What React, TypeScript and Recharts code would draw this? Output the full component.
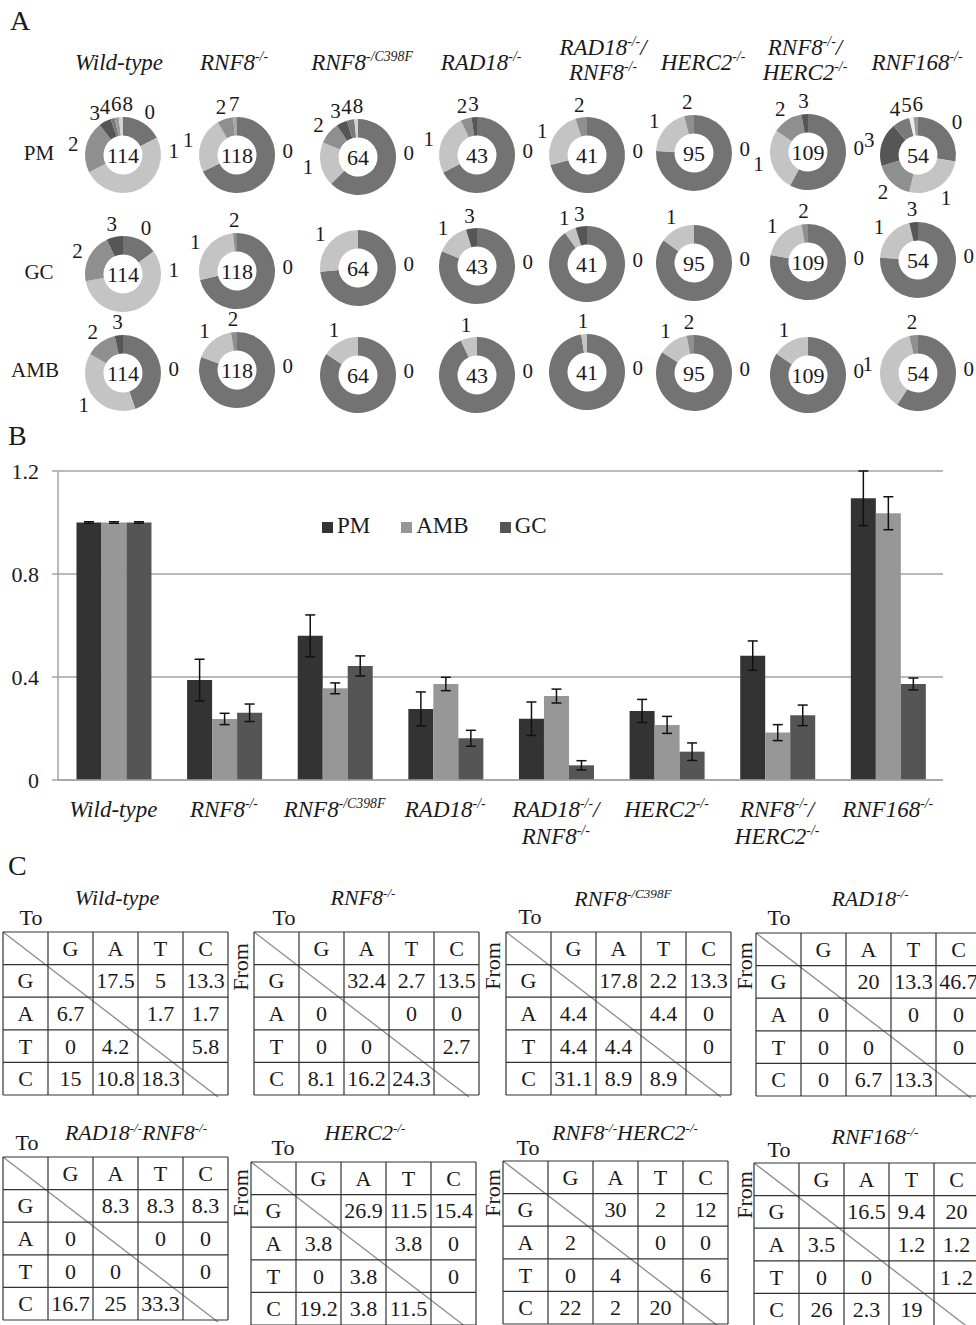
import React from 'react';
import {
  PieChart, Pie, Cell, Label, BarChart, Bar, XAxis, YAxis, CartesianGrid, ErrorBar, Legend,
} from 'recharts';

const SERIF = '"Liberation Serif", "Times New Roman", Times, serif';
const INK = '#1a1a1a';

// Genotype names; ^{...} marks a superscript and | a line break.
const genotypes = [
  'Wild-type', 'RNF8^{-/-}', 'RNF8^{-/C398F}', 'RAD18^{-/-}',
  'RAD18^{-/-}/|RNF8^{-/-}', 'HERC2^{-/-}', 'RNF8^{-/-}/|HERC2^{-/-}', 'RNF168^{-/-}',
];
const tableTitles = [
  'Wild-type', 'RNF8^{-/-}', 'RNF8^{-/C398F}', 'RAD18^{-/-}',
  'RAD18^{-/-}RNF8^{-/-}', 'HERC2^{-/-}', 'RNF8^{-/-}HERC2^{-/-}', 'RNF168^{-/-}',
];

// Panel A: cells scored per genotype and the number of cells per event class.
const tracks = ['PM', 'GC', 'AMB'];
const cellsScored = [114, 118, 64, 43, 41, 95, 109, 54];

const pmCounts: Record<string, number>[] = [
  { 0: 20, 1: 57, 2: 25, 3: 6, 4: 2, 6: 2, 8: 2 },
  { 0: 80, 1: 28, 2: 8, 7: 2 },
  { 0: 40, 1: 12, 2: 6, 3: 3, 4: 2, 8: 1 },
  { 0: 29, 1: 11, 2: 2, 3: 1 },
  { 0: 29, 1: 10, 2: 2 },
  { 0: 72, 1: 19, 2: 4 },
  { 0: 63, 1: 29, 2: 14, 3: 3 },
  { 0: 15, 1: 14, 2: 9, 3: 10, 4: 4, 5: 1, 6: 1 },
];
const gcCounts: Record<string, number>[] = [
  { 0: 17, 1: 65, 2: 24, 3: 8 },
  { 0: 84, 1: 32, 2: 2 },
  { 0: 47, 1: 17 },
  { 0: 35, 1: 6, 3: 2 },
  { 0: 37, 1: 2, 3: 2 },
  { 0: 81, 1: 14 },
  { 0: 85, 1: 21, 2: 3 },
  { 0: 41, 1: 11, 3: 2 },
];
const ambCounts: Record<string, number>[] = [
  { 0: 51, 1: 44, 2: 15, 3: 4 },
  { 0: 95, 1: 20, 2: 3 },
  { 0: 54, 1: 10 },
  { 0: 40, 1: 3 },
  { 0: 40, 1: 1 },
  { 0: 80, 1: 12, 2: 3 },
  { 0: 92, 1: 17 },
  { 0: 32, 1: 20, 2: 2 },
];
const trackCounts = [pmCounts, gcCounts, ambCounts];

// Panel B: frequencies relative to wild-type, with error bars.
const seriesOrder = ['PM', 'AMB', 'GC'];
const pmRatio = [1, 0.388, 0.56, 0.276, 0.238, 0.268, 0.483, 1.094];
const pmErr = [0.003, 0.081, 0.081, 0.066, 0.065, 0.045, 0.057, 0.106];
const ambRatio = [1, 0.237, 0.356, 0.373, 0.326, 0.214, 0.184, 1.036];
const ambErr = [0.003, 0.022, 0.021, 0.026, 0.027, 0.033, 0.031, 0.064];
const gcRatio = [1, 0.261, 0.443, 0.162, 0.057, 0.11, 0.251, 0.373];
const gcErr = [0.003, 0.034, 0.039, 0.031, 0.018, 0.034, 0.04, 0.023];
const yTicks = [0, 0.4, 0.8, 1.2];

// Panel C: substitution spectra (%), rows = From, columns = To.
const bases = ['G', 'A', 'T', 'C'];
const subsWildType = [[null, '17.5', '5', '13.3'], ['6.7', null, '1.7', '1.7'], ['0', '4.2', null, '5.8'], ['15', '10.8', '18.3', null]];
const subsRnf8 = [[null, '32.4', '2.7', '13.5'], ['0', null, '0', '0'], ['0', '0', null, '2.7'], ['8.1', '16.2', '24.3', null]];
const subsRnf8C398F = [[null, '17.8', '2.2', '13.3'], ['4.4', null, '4.4', '0'], ['4.4', '4.4', null, '0'], ['31.1', '8.9', '8.9', null]];
const subsRad18 = [[null, '20', '13.3', '46.7'], ['0', null, '0', '0'], ['0', '0', null, '0'], ['0', '6.7', '13.3', null]];
const subsRad18Rnf8 = [[null, '8.3', '8.3', '8.3'], ['0', null, '0', '0'], ['0', '0', null, '0'], ['16.7', '25', '33.3', null]];
const subsHerc2 = [[null, '26.9', '11.5', '15.4'], ['3.8', null, '3.8', '0'], ['0', '3.8', null, '0'], ['19.2', '3.8', '11.5', null]];
const subsRnf8Herc2 = [[null, '30', '2', '12'], ['2', null, '0', '0'], ['0', '4', null, '6'], ['22', '2', '20', null]];
const subsRnf168 = [[null, '16.5', '9.4', '20'], ['3.5', null, '1.2', '1.2'], ['0', '0', null, '1 .2'], ['26', '2.3', '19', null]];
const spectra = [subsWildType, subsRnf8, subsRnf8C398F, subsRad18, subsRad18Rnf8, subsHerc2, subsRnf8Herc2, subsRnf168];

// ---------- layout & style ----------
const classColors: Record<string, string> = {
  0: '#737373', 1: '#c4c4c4', 2: '#8f8f8f', 3: '#565656', 4: '#7a7a7a',
  5: '#ececec', 6: '#9c9c9c', 7: '#a6a6a6', 8: '#d3d3d3',
};
const donutColX = [123, 237, 358, 477, 587, 694, 808, 918];
const donutRowY = [
  [155, 155, 157, 155, 155, 153, 152, 155],
  [274, 271, 268, 266, 264, 263, 262, 260],
  [373, 370, 375, 375, 372, 373, 375, 373],
];
const headerPos = [
  { x: 119, y: [62] }, { x: 234, y: [62] }, { x: 362, y: [62] }, { x: 481, y: [62] },
  { x: 603, y: [47, 72] }, { x: 703, y: [62] }, { x: 805, y: [47, 72] }, { x: 917, y: [62] },
];
const trackLabelPos = [{ x: 39, y: 153 }, { x: 39, y: 272 }, { x: 35, y: 370 }];

const tablePos = [
  { x: 3, y: 932, tx: 117, ty: 898, toX: 31, toY: 918 },
  { x: 254, y: 932, tx: 363, ty: 898, toX: 284, toY: 918 },
  { x: 506, y: 932, tx: 623, ty: 899, toX: 530, toY: 917 },
  { x: 756, y: 933, tx: 870, ty: 899, toX: 779, toY: 918 },
  { x: 3, y: 1157, tx: 136, ty: 1133, toX: 27, toY: 1143 },
  { x: 251, y: 1162, tx: 365, ty: 1133, toX: 283, toY: 1148 },
  { x: 503, y: 1161, tx: 625, ty: 1133, toX: 528, toY: 1148 },
  { x: 754, y: 1163, tx: 875, ty: 1137, toX: 779, toY: 1150 },
];
const fromPos = [
  { x: 240, y: 967 }, { x: 492, y: 966 }, { x: 744, y: 966 },
  { x: 240, y: 1193 }, { x: 492, y: 1193 }, { x: 744, y: 1195 },
];

// ---------- rich text helpers ----------
type Part = { t: string; sup: boolean };
function parseRich(s: string): Part[] {
  const out: Part[] = [];
  const re = /\^\{([^}]*)\}/g;
  let last = 0;
  let m: RegExpExecArray | null;
  while ((m = re.exec(s))) {
    if (m.index > last) out.push({ t: s.slice(last, m.index), sup: false });
    out.push({ t: m[1], sup: true });
    last = re.lastIndex;
  }
  if (last < s.length) out.push({ t: s.slice(last), sup: false });
  return out;
}

function RichText({ text, x, y, size, italic = false, anchor = 'middle' }: {
  text: string; x: number; y: number; size: number; italic?: boolean; anchor?: string;
}) {
  const parts = parseRich(text);
  const lift = size * 0.4;
  let raised = false;
  return (
    <text x={x} y={y + size * 0.34} textAnchor={anchor as any} fontFamily={SERIF}
      fontStyle={italic ? 'italic' : 'normal'} fontSize={size} fill={INK}>
      {parts.map((p, i) => {
        let dy = 0;
        if (p.sup && !raised) { dy = -lift; raised = true; } else if (!p.sup && raised) { dy = lift; raised = false; }
        return (
          <tspan key={i} dy={dy} fontSize={p.sup ? size * 0.6 : size}>{p.t}</tspan>
        );
      })}
    </text>
  );
}

// ---------- panel A ----------
// Keep neighbouring slice labels at least minGap degrees apart.
function spreadAngles(base: number[], minGap: number): number[] {
  const a = base.slice();
  const n = a.length;
  for (let it = 0; it < 80; it++) {
    for (let i = 0; i < n - 1; i++) {
      const gap = a[i + 1] - a[i];
      if (gap < minGap) {
        const push = (minGap - gap) / 2;
        a[i] -= push;
        a[i + 1] += push;
      }
    }
    if (n > 1) {
      const gap = a[0] + 360 - a[n - 1];
      if (gap < minGap) {
        const push = (minGap - gap) / 2;
        a[n - 1] -= push;
        a[0] += push;
      }
    }
  }
  return a;
}

function Donut({ counts, total, cx, cy }: { counts: Record<string, number>; total: number; cx: number; cy: number }) {
  const data = Object.keys(counts).map((k) => ({ name: k, value: counts[k] }));
  const sum = data.reduce((s, d) => s + d.value, 0);
  // clockwise angles from 12 o'clock, as the pie lays the slices out
  let acc = 0;
  const mids: number[] = [];
  const preferred: number[] = [];
  data.forEach((d) => {
    const start = (acc / sum) * 360;
    const end = ((acc + d.value) / sum) * 360;
    const mid = (start + end) / 2;
    mids.push(mid);
    // wide slices carry their label on the right-hand side
    preferred.push(end - start > 150 ? Math.min(Math.max(85, start + 20), end - 20) : mid);
    acc += d.value;
  });
  const spread = spreadAngles(preferred, 13);
  const W = 136;
  const H = 130;

  const renderLabel = (p: any) => {
    const theta = 90 - p.midAngle + (spread[p.index] - mids[p.index]);
    const r = p.outerRadius + 13;
    const rad = (theta * Math.PI) / 180;
    const x = p.cx + r * Math.sin(rad);
    const y = p.cy - r * Math.cos(rad);
    return (
      <text key={`l${p.index}`} x={x} y={y + 7} textAnchor="middle" fontSize={21} fontFamily={SERIF} fill={INK}>
        {data[p.index].name}
      </text>
    );
  };

  return (
    <div style={{ position: 'absolute', left: cx - W / 2, top: cy - H / 2 }}>
      <PieChart width={W} height={H} margin={{ top: 0, right: 0, bottom: 0, left: 0 }}>
        <Pie data={data} dataKey="value" nameKey="name" cx="50%" cy="50%" innerRadius={19.5} outerRadius={38}
          startAngle={90} endAngle={-270} stroke="none" isAnimationActive={false} labelLine={false} label={renderLabel}>
          {data.map((d) => <Cell key={d.name} fill={classColors[d.name]} />)}
          <Label value={String(total)} position="center" fontSize={22} fontFamily={SERIF} fill={INK} />
        </Pie>
      </PieChart>
    </div>
  );
}

// ---------- panel B ----------
const barRows = genotypes.map((g, i) => ({
  genotype: g,
  PM: pmRatio[i], pmErr: pmErr[i],
  AMB: ambRatio[i], ambErr: ambErr[i],
  GC: gcRatio[i], gcErr: gcErr[i],
}));

function GenotypeTick(props: any) {
  const { x, y, payload } = props;
  const lines = String(payload.value).split('|');
  return (
    <g>
      {lines.map((ln, i) => (
        <RichText key={i} text={ln} x={x} y={y + 21 + i * 27} size={23} italic />
      ))}
    </g>
  );
}

function RatioLegend(props: any) {
  const items = (props.payload || []).slice()
    .sort((a: any, b: any) => seriesOrder.indexOf(a.value) - seriesOrder.indexOf(b.value));
  return (
    <div style={{ display: 'flex', alignItems: 'center', fontFamily: SERIF, fontSize: 23, color: INK, whiteSpace: 'nowrap' }}>
      {items.map((e: any) => (
        <div key={e.value} style={{ display: 'flex', alignItems: 'center', marginRight: 31 }}>
          <span style={{ display: 'inline-block', width: 11, height: 11, background: e.color, marginRight: 4, marginTop: 2 }} />
          <span>{e.value}</span>
        </div>
      ))}
    </div>
  );
}

function RatioChart() {
  const grid = '#a3a3a3';
  return (
    <div style={{ position: 'absolute', left: 0, top: 420 }}>
      <BarChart width={976} height={440} data={barRows} margin={{ top: 51, right: 33, bottom: 0, left: 0 }}
        barCategoryGap="16.7%" barGap={0}>
        <CartesianGrid vertical={false} stroke={grid} strokeWidth={1.5} />
        <XAxis dataKey="genotype" height={80} interval={0} axisLine={{ stroke: grid, strokeWidth: 1.5 }}
          tickLine={false} tick={(p: any) => <GenotypeTick {...p} />} />
        <YAxis width={58} domain={[0, 1.2]} ticks={yTicks} allowDataOverflow
          axisLine={{ stroke: grid, strokeWidth: 1.5 }} tickLine={{ stroke: grid, strokeWidth: 1.5 }}
          tickSize={6} tickMargin={13} tick={{ fontSize: 22, fill: INK, fontFamily: SERIF }}
          tickFormatter={(v: number) => (v === 0 ? '0' : v.toFixed(1))} />
        <Legend layout="horizontal" verticalAlign="middle" align="center" content={<RatioLegend />}
          wrapperStyle={{ top: 93, left: 322, width: 'auto' }} />
        <Bar dataKey="PM" name="PM" fill="#333333" isAnimationActive={false}>
          <ErrorBar dataKey="pmErr" width={5} stroke="#111" strokeWidth={1.5} direction="y" />
        </Bar>
        <Bar dataKey="AMB" name="AMB" fill="#979797" isAnimationActive={false}>
          <ErrorBar dataKey="ambErr" width={5} stroke="#111" strokeWidth={1.5} direction="y" />
        </Bar>
        <Bar dataKey="GC" name="GC" fill="#555555" isAnimationActive={false}>
          <ErrorBar dataKey="gcErr" width={5} stroke="#111" strokeWidth={1.5} direction="y" />
        </Bar>
      </BarChart>
    </div>
  );
}

// ---------- panel C ----------
function SpectrumTable({ x, y, rows }: { x: number; y: number; rows: (string | null)[][] }) {
  const cw = 45;
  const ch = 32.6;
  const W = cw * 5;
  const H = ch * 5;
  const lines = [];
  for (let i = 0; i <= 5; i++) {
    lines.push(<line key={`h${i}`} x1={x} x2={x + W} y1={y + i * ch} y2={y + i * ch} stroke="#333" strokeWidth={1.2} />);
    lines.push(<line key={`v${i}`} x1={x + i * cw} x2={x + i * cw} y1={y} y2={y + H} stroke="#333" strokeWidth={1.2} />);
  }
  const cellText = (key: string, s: string, c: number, r: number) => (
    <text key={key} x={x + c * cw + cw / 2} y={y + r * ch + ch / 2 + 7.5} textAnchor="middle"
      fontSize={22} fontFamily={SERIF} fill={INK}>{s}</text>
  );
  return (
    <g>
      <rect x={x} y={y} width={W} height={H} fill="#fff" />
      <line x1={x} y1={y} x2={x + W - 10} y2={y + H + 2} stroke="#8c8c8c" strokeWidth={1.3} />
      {lines}
      {bases.map((b, i) => cellText(`c${b}`, b, i + 1, 0))}
      {bases.map((b, i) => cellText(`r${b}`, b, 0, i + 1))}
      {rows.map((row, r) => row.map((v, c) => (v === null ? null : cellText(`v${r}${c}`, v, c + 1, r + 1))))}
    </g>
  );
}

function StaticLayer() {
  return (
    <svg width={976} height={1325} style={{ position: 'absolute', left: 0, top: 0 }}>
      {/* panel letters */}
      <text x={10} y={30} fontSize={28} fontFamily={SERIF} fill={INK}>A</text>
      <text x={8} y={445} fontSize={28} fontFamily={SERIF} fill={INK}>B</text>
      <text x={8} y={875} fontSize={28} fontFamily={SERIF} fill={INK}>C</text>

      {/* panel A headers */}
      {genotypes.map((g, i) => g.split('|').map((ln, li) => (
        <RichText key={`${i}-${li}`} text={ln} x={headerPos[i].x} y={headerPos[i].y[li]} size={23} italic />
      )))}
      {tracks.map((t, i) => (
        <RichText key={t} text={t} x={trackLabelPos[i].x} y={trackLabelPos[i].y} size={21} />
      ))}

      {/* panel C */}
      {spectra.map((rows, i) => (
        <g key={i}>
          <RichText text={tableTitles[i]} x={tablePos[i].tx} y={tablePos[i].ty} size={22} italic />
          <RichText text="To" x={tablePos[i].toX} y={tablePos[i].toY} size={22} />
          <SpectrumTable x={tablePos[i].x} y={tablePos[i].y} rows={rows} />
        </g>
      ))}
      {fromPos.map((p, i) => (
        <text key={i} x={p.x} y={p.y} transform={`rotate(-90 ${p.x} ${p.y})`} dy={7.5} textAnchor="middle"
          fontSize={22} fontFamily={SERIF} fill={INK}>From</text>
      ))}
    </svg>
  );
}

export default function App() {
  return (
    <div style={{ position: 'absolute', left: 0, top: 0, width: 976, height: 1325, overflow: 'hidden', background: '#fff' }}>
      <StaticLayer />
      {trackCounts.map((row, r) => row.map((counts, c) => (
        <Donut key={`${r}-${c}`} counts={counts} total={cellsScored[c]} cx={donutColX[c]} cy={donutRowY[r][c]} />
      )))}
      <RatioChart />
    </div>
  );
}
